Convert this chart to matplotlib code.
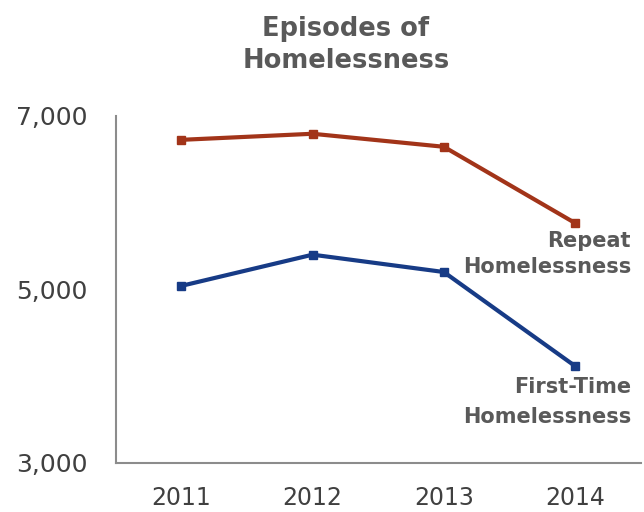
import matplotlib
matplotlib.use("Agg")
import matplotlib.pyplot as plt

years = ["2011", "2012", "2013", "2014"]
repeat = [6725, 6795, 6645, 5765]
first_time = [5040, 5400, 5200, 4115]
yticks = [3000, 5000, 7000]
ytick_labels = ["3,000", "5,000", "7,000"]

red = "#A23419"
blue = "#173B86"
txt = "#595959"
tick_c = "#404040"

plt.rcParams['font.family'] = ['DejaVu Sans']

fig = plt.figure(figsize=(6.44, 5.12), dpi=100)
ax = fig.add_axes([115.7/644, (512-462.7)/512, (640.7-115.7)/644, (462.7-116)/512])

x = list(range(len(years)))
ax.plot(x, repeat, color=red, lw=3, marker='s', ms=6, solid_joinstyle='miter')
ax.plot(x, first_time, color=blue, lw=3, marker='s', ms=6, solid_joinstyle='miter')

ax.set_xlim(-0.5, 3.5)
ax.set_ylim(3000, 7000)
ax.set_xticks(x)
ax.set_xticklabels(years)
ax.set_yticks(yticks)
ax.set_yticklabels(ytick_labels)
ax.tick_params(axis='both', length=0, colors=tick_c)
ax.tick_params(axis='y', pad=20, labelsize=18)
ax.tick_params(axis='x', pad=17, labelsize=17)
for s in ['top', 'right']:
    ax.spines[s].set_visible(False)
for s in ['left', 'bottom']:
    ax.spines[s].set_color('#8C8C8C')
    ax.spines[s].set_linewidth(1.5)

fig.text(346/644, 1 - 36/512, "Episodes of", ha='center', va='baseline',
         fontsize=18.5, fontweight='bold', color=txt)
fig.text(346/644, 1 - 68/512, "Homelessness", ha='center', va='baseline',
         fontsize=18.5, fontweight='bold', color=txt)

fig.text(631/644, 1 - 247/512, "Repeat", ha='right', va='baseline',
         fontsize=15, fontweight='bold', color=txt)
fig.text(631/644, 1 - 273/512, "Homelessness", ha='right', va='baseline',
         fontsize=15, fontweight='bold', color=txt)
fig.text(631/644, 1 - 393/512, "First-Time", ha='right', va='baseline',
         fontsize=15, fontweight='bold', color=txt)
fig.text(631/644, 1 - 423/512, "Homelessness", ha='right', va='baseline',
         fontsize=15, fontweight='bold', color=txt)

fig.savefig("out.png", dpi=100, facecolor='white')
